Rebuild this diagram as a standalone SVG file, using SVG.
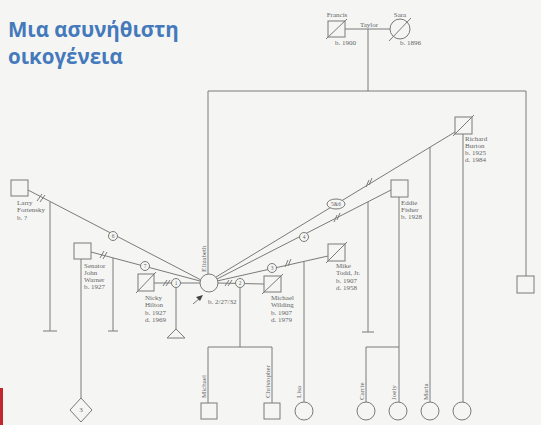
<svg xmlns="http://www.w3.org/2000/svg" width="541" height="425" viewBox="0 0 541 425">
<style>
.ln{stroke:#7a7a7a;stroke-width:1;fill:none}
.sh{stroke:#7a7a7a;stroke-width:1;fill:#f5f5f4}
.lb{font-family:"Liberation Serif",serif;font-size:7px;fill:#666}
.nb{font-family:"Liberation Serif",serif;font-size:5.5px;fill:#666;text-anchor:middle}
.tt{font-family:"Open Sans","Noto Sans",sans-serif;font-size:20.5px;font-weight:bold;fill:#4479bb}
</style>
<rect width="541" height="425" fill="#f5f5f4"/>
<rect x="0" y="388" width="3" height="37" fill="#c0282d"/>
<text class="tt" x="8" y="37">Μια ασυνήθιστη</text>
<text class="tt" x="8" y="64">οικογένεια</text>

<g id="connectors">
<line class="ln" x1="345" y1="29" x2="390" y2="29"/>
<line class="ln" x1="368" y1="29" x2="368" y2="91"/>
<line class="ln" x1="208" y1="91" x2="526" y2="91"/>
<line class="ln" x1="208" y1="91" x2="208" y2="274"/>
<line class="ln" x1="526" y1="91" x2="526" y2="276"/>
<line class="ln" x1="28" y1="190" x2="201" y2="280"/>
<line class="ln" x1="91" y1="252" x2="200" y2="281"/>
<line class="ln" x1="154" y1="283" x2="200" y2="283"/>
<line class="ln" x1="217" y1="283" x2="264" y2="284"/>
<line class="ln" x1="217" y1="281" x2="328" y2="256"/>
<line class="ln" x1="217" y1="279" x2="391" y2="190"/>
<line class="ln" x1="216" y1="277" x2="455" y2="132"/>
<path class="ln" d="M50 202V331M43 331H57"/>
<path class="ln" d="M81 259V398"/>
<path class="ln" d="M113 258V331M108 331H118"/>
<path class="ln" d="M176 283V329"/>
<path class="ln" d="M240 283V347M208 347H272M208 347V403M272 347V403"/>
<path class="ln" d="M304 262V402"/>
<path class="ln" d="M368 202V332M362 332H374"/>
<path class="ln" d="M399 197V402M366 347H399M366 347V402"/>
<path class="ln" d="M430 147V402"/>
<path class="ln" d="M463 134V402"/>
<path class="ln" d="M37 201L42 194M40 202L45 195"/>
<path class="ln" d="M100 258L104 251M103 259L107 252"/>
<path class="ln" d="M163 286L167 280M166 286L170 280"/>
<path class="ln" d="M225 286L229 280M228 286L232 280"/>
<path class="ln" d="M285 267L288 260M288 266L291 259"/>
<path class="ln" d="M334 222L337 215M337 220L340 213"/>
<path class="ln" d="M366 187L369 180M369 185L372 178"/>
<line class="ln" x1="193" y1="304" x2="200" y2="298" stroke="#444"/>
<polygon points="203,295 196,297 200,301" fill="#444"/>
</g>

<g id="francis"><rect class="sh" x="328" y="21" width="17" height="16"/><line class="ln" x1="326" y1="39" x2="347" y2="19"/><text class="lb" x="337" y="17" text-anchor="middle">Francis</text><text class="lb" x="335" y="45">b. 1900</text></g>
<g id="sara"><circle class="sh" cx="400" cy="29" r="10"/><line class="ln" x1="389" y1="41" x2="411" y2="18"/><text class="lb" x="400" y="17" text-anchor="middle">Sara</text><text class="lb" x="400" y="45">b. 1896</text></g>
<g id="taylor-label"><text class="lb" x="369" y="27" text-anchor="middle">Taylor</text></g>

<g id="elizabeth"><circle class="sh" cx="209" cy="283" r="9"/><text class="lb" transform="translate(206,272) rotate(-90)">Elizabeth</text><text class="lb" x="208" y="304">b. 2/27/32</text></g>
<g id="larry"><rect class="sh" x="11" y="180" width="17" height="16"/><text class="lb" x="17" y="205">Larry</text><text class="lb" x="17" y="212">Fortensky</text><text class="lb" x="17" y="220">b. ?</text></g>
<g id="warner"><rect class="sh" x="74" y="243" width="17" height="16"/><text class="lb" x="84" y="268">Senator</text><text class="lb" x="84" y="275">John</text><text class="lb" x="84" y="282">Warner</text><text class="lb" x="84" y="289">b. 1927</text></g>
<g id="nicky"><rect class="sh" x="138" y="274" width="16" height="17"/><line class="ln" x1="136" y1="293" x2="156" y2="272"/><text class="lb" x="145" y="300">Nicky</text><text class="lb" x="145" y="307">Hilton</text><text class="lb" x="145" y="315">b. 1927</text><text class="lb" x="145" y="322">d. 1969</text></g>
<g id="wilding"><rect class="sh" x="264" y="276" width="17" height="16"/><line class="ln" x1="262" y1="294" x2="283" y2="274"/><text class="lb" x="271" y="300">Michael</text><text class="lb" x="271" y="307">Wilding</text><text class="lb" x="271" y="315">b. 1907</text><text class="lb" x="271" y="322">d. 1979</text></g>
<g id="todd"><rect class="sh" x="328" y="244" width="17" height="17"/><line class="ln" x1="326" y1="263" x2="347" y2="242"/><text class="lb" x="336" y="268">Mike</text><text class="lb" x="336" y="275">Todd, Jr.</text><text class="lb" x="336" y="283">b. 1907</text><text class="lb" x="336" y="290">d. 1958</text></g>
<g id="fisher"><rect class="sh" x="391" y="180" width="17" height="17"/><text class="lb" x="401" y="205">Eddie</text><text class="lb" x="401" y="212">Fisher</text><text class="lb" x="401" y="219">b. 1928</text></g>
<g id="burton"><rect class="sh" x="455" y="117" width="17" height="17"/><line class="ln" x1="453" y1="136" x2="474" y2="115"/><text class="lb" x="465" y="141">Richard</text><text class="lb" x="465" y="148">Burton</text><text class="lb" x="465" y="155">b. 1925</text><text class="lb" x="465" y="162">d. 1984</text></g>
<g id="sibling"><rect class="sh" x="517" y="276" width="17" height="17"/></g>

<g id="m6"><circle class="sh" cx="113" cy="236" r="4.5"/><text class="nb" x="113" y="238">6</text></g>
<g id="m7"><circle class="sh" cx="145" cy="266" r="4.5"/><text class="nb" x="145" y="268">7</text></g>
<g id="m1"><circle class="sh" cx="176" cy="283" r="4.5"/><text class="nb" x="176" y="285">1</text></g>
<g id="m2"><circle class="sh" cx="240" cy="283" r="4.5"/><text class="nb" x="240" y="285">2</text></g>
<g id="m3"><circle class="sh" cx="272" cy="268" r="4.5"/><text class="nb" x="272" y="270">3</text></g>
<g id="m4"><circle class="sh" cx="304" cy="237" r="4.5"/><text class="nb" x="304" y="239">4</text></g>
<g id="m56"><ellipse class="sh" cx="336" cy="204" rx="9" ry="5"/><text class="nb" x="336" y="206">5&amp;6</text></g>

<g id="warner-children"><polygon class="sh" points="81,398 92,410 81,422 70,410"/><text class="nb" x="81" y="412" style="font-size:7px">3</text></g>
<g id="hilton-child"><polygon class="sh" points="176,329 185,338 167,338"/></g>
<g id="michael"><rect class="sh" x="201" y="403" width="16" height="16"/><text class="lb" transform="translate(206,398) rotate(-90)">Michael</text></g>
<g id="christopher"><rect class="sh" x="264" y="403" width="16" height="16"/><text class="lb" transform="translate(270,398) rotate(-90)">Christopher</text></g>
<g id="lisa"><circle class="sh" cx="304" cy="411" r="9"/><text class="lb" transform="translate(301,398) rotate(-90)">Lisa</text></g>
<g id="carrie"><circle class="sh" cx="366" cy="411" r="9"/><text class="lb" transform="translate(364,400) rotate(-90)">Carrie</text></g>
<g id="joely"><circle class="sh" cx="398" cy="411" r="9"/><text class="lb" transform="translate(396,400) rotate(-90)">Joely</text></g>
<g id="maria"><circle class="sh" cx="430" cy="411" r="9"/><text class="lb" transform="translate(428,400) rotate(-90)">Maria</text></g>
<g id="kate"><circle class="sh" cx="462" cy="411" r="9"/></g>
</svg>
